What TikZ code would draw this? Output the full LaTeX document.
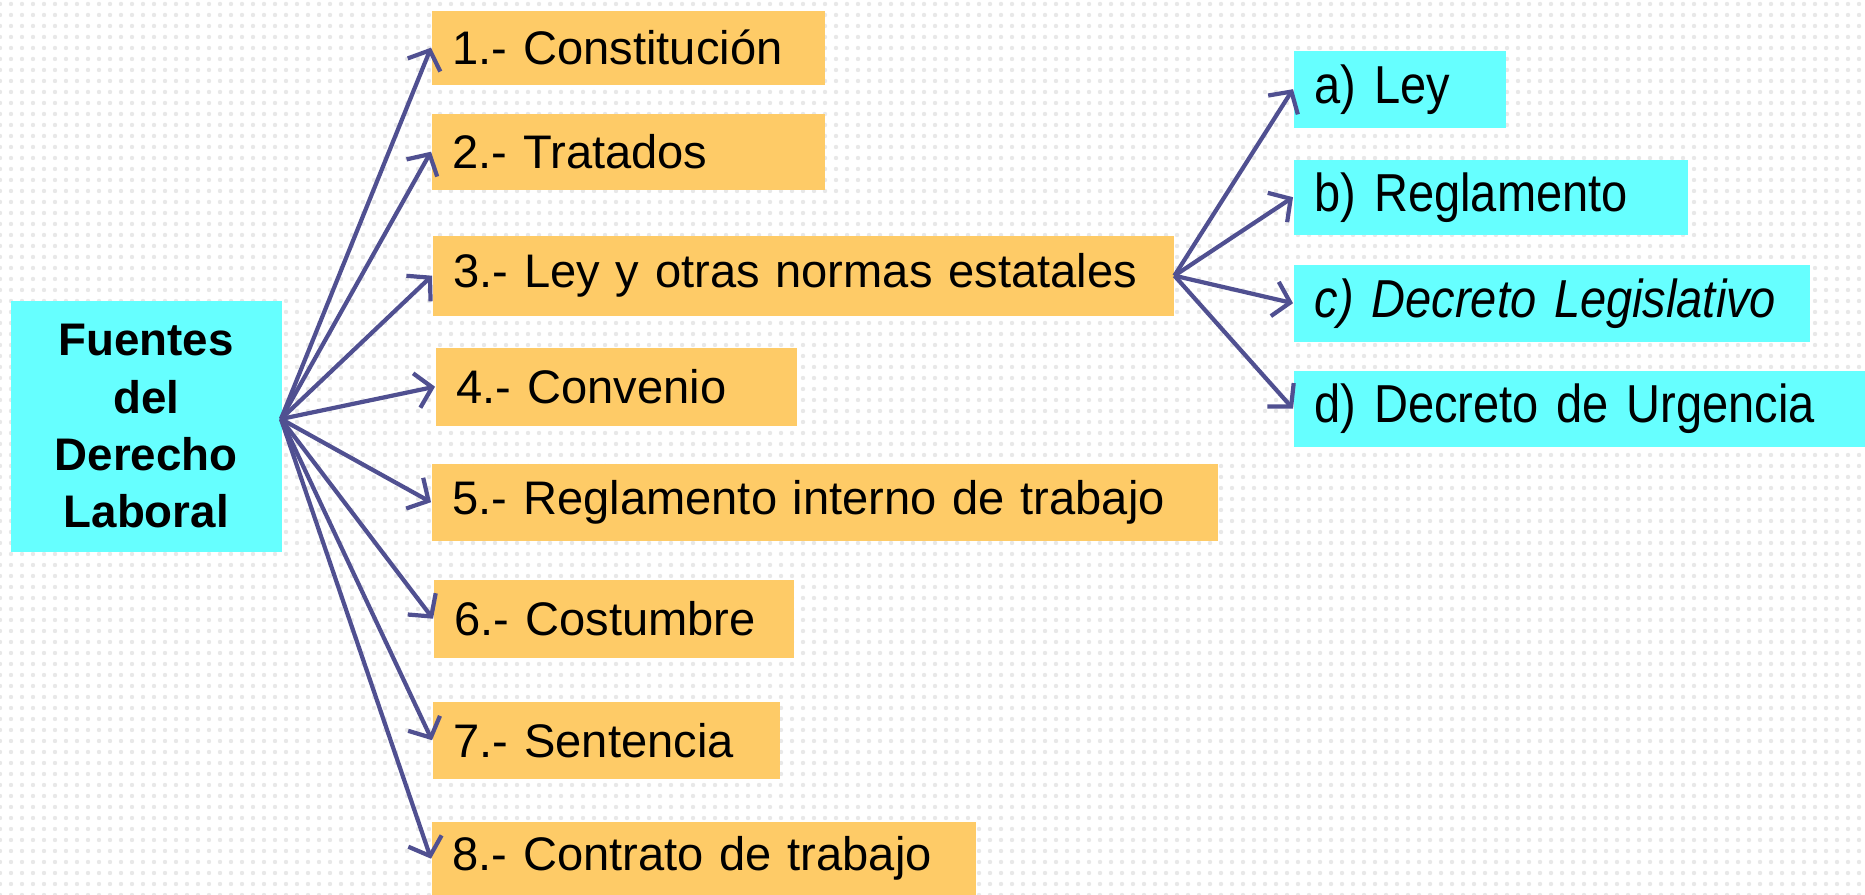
\documentclass[tikz,border=0pt]{standalone}
\usepackage{fontspec}
\setmainfont{Liberation Sans}
\newfontfamily\narrowfont[FakeStretch=0.88,WordSpace=0.6]{Liberation Sans}
\usetikzlibrary{arrows.meta,patterns.meta}
\definecolor{boxorange}{RGB}{254,203,103}
\definecolor{boxcyan}{RGB}{102,255,255}
\definecolor{arrowblue}{RGB}{80,80,145}
\definecolor{dotgray}{RGB}{232,232,232}
\begin{document}
\begin{tikzpicture}[
  obox/.style={fill=boxorange, anchor=north west, inner xsep=0.21cm, inner ysep=0pt, align=left, font=\fontsize{13.4}{16}\selectfont},
  cbox/.style={fill=boxcyan, anchor=north west, inner xsep=0.21cm, inner ysep=0pt, align=left, font=\narrowfont\fontsize{15.2}{18}\selectfont},
  mbox/.style={fill=boxcyan, anchor=north west, inner sep=0pt, align=center, font=\bfseries\fontsize{13}{16.3}\selectfont},
  arr/.style={draw=arrowblue, line width=1.2pt, -{Straight Barb[length=4.5pt,width=10pt,line width=1.2pt]}},
]
\fill[white] (0,0) rectangle (18.65,-8.95);
\fill[pattern={Dots[radius=0.022cm, distance=0.11cm]}, pattern color=dotgray] (0,0) rectangle (18.65,-8.95);
\useasboundingbox (0,0) rectangle (18.65,-8.95);

\node[mbox, minimum width=2.71cm, minimum height=2.51cm] (main) at (0.10,-3.00) {Fuentes\\del\\Derecho\\Laboral};

\node[obox, text width=3.51cm, minimum height=0.74cm] (b1) at (4.31,-0.10) {1.- Constitución};
\node[obox, text width=3.51cm, minimum height=0.76cm] (b2) at (4.31,-1.13) {2.- Tratados};
\node[obox, text width=6.99cm, minimum height=0.80cm] (b3) at (4.32,-2.35) {3.- Ley y otras normas estatales};
\node[obox, text width=3.19cm, minimum height=0.78cm] (b4) at (4.35,-3.47) {4.- Convenio};
\node[obox, text width=7.44cm, minimum height=0.77cm] (b5) at (4.31,-4.63) {5.- Reglamento interno de trabajo};
\node[obox, text width=3.18cm, minimum height=0.78cm] (b6) at (4.33,-5.79) {6.- Costumbre};
\node[obox, text width=3.05cm, minimum height=0.77cm] (b7) at (4.32,-7.01) {7.- Sentencia};
\node[obox, text width=5.02cm, minimum height=0.74cm] (b8) at (4.31,-8.21) {8.- Contrato de trabajo};

\node[cbox, text width=1.70cm, minimum height=0.77cm] (sa) at (12.93,-0.50) {a) Ley};
\node[cbox, text width=3.52cm, minimum height=0.75cm] (sb) at (12.93,-1.59) {b) Reglamento};
\node[cbox, text width=4.74cm, minimum height=0.77cm] (sc) at (12.93,-2.64) {\itshape c) Decreto Legislativo};
\node[cbox, text width=5.30cm, minimum height=0.76cm] (sd) at (12.93,-3.70) {d) Decreto de Urgencia};

\coordinate (src) at (2.81,-4.19);
\foreach \t in {b1,b2,b3,b4,b5,b6,b7,b8}
  \draw[arr] (src) -- (\t.west);
\foreach \t in {sa,sb,sc,sd}
  \draw[arr] (b3.east) -- (\t.west);
\end{tikzpicture}
\end{document}
